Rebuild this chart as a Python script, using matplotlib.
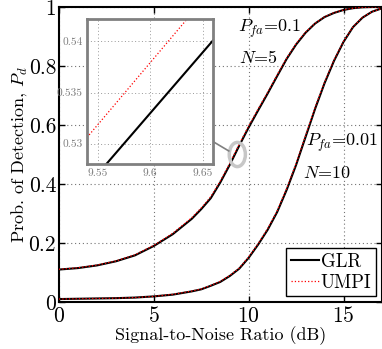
import matplotlib
matplotlib.use("Agg")
import matplotlib.pyplot as plt
from matplotlib.patches import Ellipse

plt.rcParams['font.family'] = 'serif'
plt.rcParams['font.serif'] = ['cmr10', 'DejaVu Serif']
plt.rcParams['mathtext.fontset'] = 'cm'
plt.rcParams['axes.formatter.use_mathtext'] = True

# ---- data ----
snr = [0, 1, 2, 3, 4, 5, 6, 7, 7.5, 8, 8.5, 9, 9.5, 10, 10.5, 11, 11.5,
       12, 12.5, 13, 13.5, 14, 14.5, 15, 15.5, 16, 16.5, 17]

glr_a = [0.110, 0.115, 0.124, 0.138, 0.158, 0.190, 0.230, 0.282, 0.315, 0.352,
         0.405, 0.465, 0.530, 0.592, 0.650, 0.707, 0.766, 0.824, 0.873, 0.913,
         0.944, 0.966, 0.980, 0.990, 0.996, 0.999, 1.000, 1.000]
umpi_a = [0.111, 0.116, 0.125, 0.139, 0.160, 0.192, 0.233, 0.286, 0.319, 0.357,
          0.410, 0.470, 0.535, 0.597, 0.655, 0.711, 0.770, 0.827, 0.876, 0.915,
          0.945, 0.967, 0.981, 0.990, 0.996, 0.999, 1.000, 1.000]

glr_b = [0.010, 0.011, 0.012, 0.013, 0.015, 0.019, 0.025, 0.036, 0.043, 0.055,
         0.068, 0.088, 0.113, 0.150, 0.195, 0.245, 0.305, 0.380, 0.465, 0.560,
         0.655, 0.742, 0.818, 0.882, 0.932, 0.964, 0.984, 0.995]
umpi_b = [0.010, 0.011, 0.012, 0.013, 0.015, 0.019, 0.026, 0.037, 0.044, 0.056,
          0.070, 0.090, 0.115, 0.153, 0.198, 0.249, 0.309, 0.385, 0.470, 0.565,
          0.660, 0.746, 0.821, 0.884, 0.933, 0.965, 0.984, 0.995]

inset_snr = [9.54, 9.66]
inset_glr = [0.5258, 0.5401]
inset_umpi = [0.5306, 0.5452]

xticks = [0, 5, 10, 15]
yticks = [0, 0.2, 0.4, 0.6, 0.8, 1]
inset_xticks = [9.55, 9.6, 9.65]
inset_yticks = [0.53, 0.535, 0.54]

W, H = 382, 349
fig = plt.figure(figsize=(W / 100, H / 100), dpi=100)
ax = fig.add_axes([59 / W, 47 / H, 322.5 / W, 295 / H])

ax.plot(snr, glr_a, color='black', lw=1.5, label='GLR', zorder=3)
ax.plot(snr, umpi_a, color='red', lw=0.9, ls=':', label='UMPI', zorder=4)
ax.plot(snr, glr_b, color='black', lw=1.5, zorder=3)
ax.plot(snr, umpi_b, color='red', lw=0.9, ls=':', zorder=4)

ax.set_xlim(0, 17)
ax.set_ylim(0, 1)
ax.set_xticks(xticks)
ax.set_yticks(yticks)
ax.set_yticklabels(['0', '0.2', '0.4', '0.6', '0.8', '1'])
ax.grid(True, ls=(0, (1, 2.5)), color='0.45', lw=0.8)
ax.tick_params(direction='in', top=True, right=True, length=4, width=1,
               labelsize=15.5)
ax.tick_params(axis='y', pad=2)
ax.tick_params(axis='x', pad=3)
for s in ax.spines.values():
    s.set_linewidth(1.5)

ax.set_xlabel('Signal-to-Noise Ratio (dB)', fontsize=13, labelpad=0)
ax.set_ylabel(r'Prob. of Detection, $P_d$', fontsize=13, labelpad=0)

ax.text(9.45, 0.915, r'$P_{fa}$=0.1', fontsize=13)
ax.text(9.5, 0.81, r'$N$=5', fontsize=13)
ax.text(13.0, 0.53, r'$P_{fa}$=0.01', fontsize=13)
ax.text(12.85, 0.42, r'$N$=10', fontsize=13)

leg = ax.legend(loc='lower right', fontsize=13.5, fancybox=False, framealpha=1,
                edgecolor='black', borderpad=0.25, handlelength=1.5,
                handletextpad=0.1, labelspacing=0.15, borderaxespad=0.3)
leg.get_frame().set_linewidth(1.0)

ell = Ellipse((9.4, 0.5), 0.85, 0.082, fill=False, edgecolor='0.78', lw=2.5,
              zorder=5)
ax.add_patch(ell)
ax.plot([8.06, 8.95], [0.546, 0.512], color='0.5', lw=1.2, zorder=5)

# ---- inset ----
ins = fig.add_axes([87 / W, (H - 164) / H, 126 / W, 145 / H], zorder=6)
ins.plot(inset_snr, inset_glr, color='black', lw=1.5)
ins.plot(inset_snr, inset_umpi, color='red', lw=0.9, ls=':')
ins.set_xlim(9.54, 9.66)
ins.set_ylim(0.528, 0.5422)
ins.set_xticks(inset_xticks)
ins.set_xticklabels(['9.55', '9.6', '9.65'])
ins.set_yticks(inset_yticks)
ins.set_yticklabels(['0.53', '0.535', '0.54'])
ins.grid(True, ls=(0, (1, 2.5)), color='0.6', lw=0.7)
ins.tick_params(length=0, labelsize=8.2, labelcolor='0.5', pad=3)
for s in ins.spines.values():
    s.set_linewidth(2)
    s.set_edgecolor('0.5')

fig.savefig('out.png', dpi=100)
